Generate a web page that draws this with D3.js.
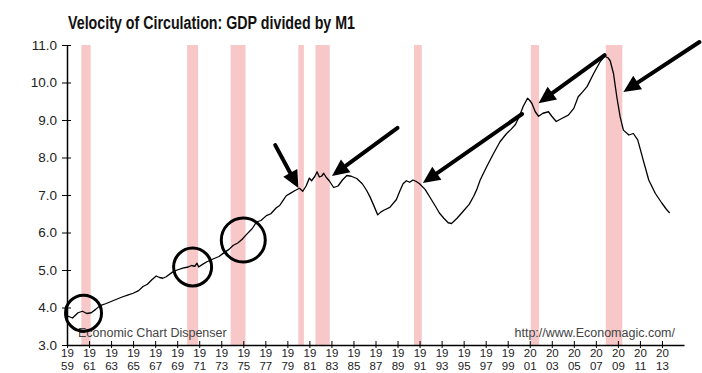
<!DOCTYPE html>
<html>
<head>
<meta charset="utf-8">
<script src="https://cdn.jsdelivr.net/npm/d3@7"></script>
<style>
  body { margin: 0; background: #fff; }
  svg { display: block; font-family: "Liberation Sans", Arial, sans-serif; }
</style>
</head>
<body>
<svg id="chart" width="702" height="373"></svg>
<script>
// Series
const years = [1959.0, 1959.5, 1960.0, 1960.4, 1960.8, 1961.2, 1961.6, 1962.0, 1962.5, 1963.0,
  1963.5, 1964.0, 1964.5, 1965.0, 1965.5, 1965.9, 1966.3, 1966.7, 1967.1, 1967.4,
  1967.7, 1968.0, 1968.6, 1969.0, 1969.5, 1970.0, 1970.3, 1970.6, 1970.8, 1970.95,
  1971.3, 1971.7, 1972.3, 1972.8, 1973.2, 1973.7, 1974.1, 1974.5, 1974.9, 1975.3,
  1975.8, 1976.2, 1976.6, 1977.1, 1977.5, 1978.0, 1978.3, 1978.6, 1978.9, 1979.3,
  1979.7, 1980.1, 1980.4, 1980.7, 1981.0, 1981.2, 1981.5, 1981.7, 1981.9, 1982.1,
  1982.3, 1982.5, 1982.8, 1983.2, 1983.6, 1984.0, 1984.4, 1984.8, 1985.3, 1985.8,
  1986.2, 1986.5, 1986.8, 1987.2, 1987.5, 1987.8, 1988.3, 1988.9, 1989.2, 1989.5,
  1989.8, 1990.1, 1990.4, 1990.7, 1991.0, 1991.5, 1991.9, 1992.4, 1992.8, 1993.2,
  1993.6, 1993.9, 1994.4, 1995.0, 1995.5, 1995.9, 1996.2, 1996.5, 1997.1, 1997.7,
  1998.3, 1998.9, 1999.3, 1999.7, 2000.1, 2000.4, 2000.8, 2001.0, 2001.2, 2001.5,
  2001.8, 2002.2, 2002.7, 2003.0, 2003.4, 2003.9, 2004.5, 2005.0, 2005.4, 2005.8,
  2006.2, 2006.8, 2007.4, 2007.8, 2008.1, 2008.3, 2008.6, 2008.9, 2009.2, 2009.5,
  2010.0, 2010.4, 2010.8, 2011.3, 2011.8, 2012.4, 2013.0, 2013.4, 2013.7];
const velocity = [3.78, 3.72, 3.86, 3.90, 3.84, 3.86, 3.95, 4.05, 4.10, 4.16,
  4.22, 4.28, 4.33, 4.38, 4.45, 4.56, 4.62, 4.74, 4.84, 4.80,
  4.78, 4.82, 4.95, 5.00, 5.05, 5.08, 5.12, 5.10, 5.18, 5.08,
  5.15, 5.22, 5.30, 5.36, 5.45, 5.55, 5.66, 5.72, 5.82, 5.95,
  6.10, 6.28, 6.32, 6.45, 6.50, 6.66, 6.72, 6.85, 6.98, 7.05,
  7.12, 7.18, 7.10, 7.24, 7.45, 7.38, 7.50, 7.62, 7.48, 7.50,
  7.58, 7.48, 7.38, 7.20, 7.24, 7.40, 7.52, 7.50, 7.44, 7.30,
  7.12, 6.95, 6.75, 6.47, 6.55, 6.60, 6.67, 6.88, 7.10, 7.30,
  7.38, 7.34, 7.40, 7.36, 7.30, 7.15, 6.96, 6.72, 6.52, 6.38,
  6.26, 6.24, 6.38, 6.58, 6.75, 6.96, 7.15, 7.40, 7.76, 8.10,
  8.42, 8.64, 8.75, 8.88, 9.13, 9.36, 9.58, 9.52, 9.44, 9.22,
  9.10, 9.18, 9.22, 9.10, 8.96, 9.04, 9.13, 9.31, 9.62, 9.75,
  9.89, 10.24, 10.56, 10.70, 10.66, 10.58, 10.24, 9.62, 9.09, 8.73,
  8.60, 8.64, 8.47, 7.93, 7.40, 7.04, 6.78, 6.62, 6.52];

// Recession shading (start, end)
const recessionStart = [1960.3, 1969.9, 1973.85, 1980.0, 1981.55, 1990.5, 2001.1, 2007.9];
const recessionEnd   = [1961.15, 1970.9, 1975.2, 1980.5, 1982.85, 1991.2, 2001.85, 2009.4];

// Axis ticks
const yTicks = [3, 4, 5, 6, 7, 8, 9, 10, 11];
const xTicks = d3.range(1959, 2014, 2);

// Hand-drawn annotations (in data units)
const circleYear = [1960.5, 1970.4, 1975.0];
const circleValue = [3.85, 5.08, 5.8];
const circleRadius = [18, 19, 22];
const arrowFrom = [[1977.9, 8.33], [1989.0, 8.79], [2000.3, 9.16], [2007.8, 10.73], [2016.4, 11.08]];
const arrowTo   = [[1980.0, 7.19], [1983.05, 7.51], [1991.3, 7.32], [2001.8, 9.45], [2009.5, 9.75]];

const svg = d3.select("#chart");

const xScale = d3.scaleLinear().domain([1959, 2015]).range([67, 684]);
const yScale = d3.scaleLinear().domain([3, 11]).range([345, 45]);

// Title
svg.append("text")
    .text("Velocity of Circulation: GDP divided by M1")
    .attr("x", 68)
    .attr("y", 29)
    .attr("font-size", 17.5)
    .attr("font-weight", "bold")
    .attr("fill", "#111")
    .attr("textLength", 287)
    .attr("lengthAdjust", "spacingAndGlyphs");

// Recession bars
svg.append("g")
    .selectAll("rect")
    .data(recessionStart)
    .join("rect")
    .attr("x", d => xScale(d))
    .attr("width", (d, i) => xScale(recessionEnd[i]) - xScale(d))
    .attr("y", yScale(11))
    .attr("height", yScale(3) - yScale(11))
    .attr("fill", "#f8c8c8");

// Footer texts
svg.append("text")
    .text("Economic Chart Dispenser")
    .attr("x", 78)
    .attr("y", 337)
    .attr("font-size", 12.5)
    .attr("fill", "#444");

svg.append("text")
    .text("http://www.Economagic.com/")
    .attr("x", 675)
    .attr("y", 337)
    .attr("text-anchor", "end")
    .attr("font-size", 12.5)
    .attr("fill", "#444");

// Left axis
const leftAxis = d3.axisLeft(yScale)
    .tickValues(yTicks)
    .tickFormat(d3.format(".1f"))
    .tickSizeInner(5)
    .tickSizeOuter(0)
    .tickPadding(5);
const gy = svg.append("g")
    .attr("transform", `translate(${xScale(1959)},0)`)
    .call(leftAxis);
gy.selectAll(".tick line").attr("x2", 4).attr("x1", -5).attr("stroke", "#000");
gy.selectAll(".tick text").attr("x", -10).attr("font-size", 13.5).attr("fill", "#222")
    .attr("font-family", "Liberation Sans, Arial, sans-serif");
gy.select(".domain").attr("stroke", "#000").attr("stroke-width", 1.5);

// Bottom axis: two-line year labels ("19" over "59")
const bottomAxis = d3.axisBottom(xScale)
    .tickValues(xTicks)
    .tickSizeInner(4)
    .tickSizeOuter(0)
    .tickFormat("");
const gx = svg.append("g")
    .attr("transform", `translate(0,${yScale(3)})`)
    .call(bottomAxis);
gx.selectAll(".tick line").attr("y1", -4).attr("y2", 3).attr("stroke", "#000");
gx.select(".domain").attr("stroke", "#000").attr("stroke-width", 1.5);
gx.selectAll(".tick")
    .selectAll("text.yr")
    .data(d => [String(d).slice(0, 2), String(d).slice(2)])
    .join("text")
    .attr("class", "yr")
    .attr("text-anchor", "middle")
    .attr("font-size", 11.5)
    .attr("fill", "#222")
    .attr("font-family", "Liberation Sans, Arial, sans-serif")
    .attr("x", 0)
    .attr("y", (d, i) => 12 + i * 13)
    .text(d => d);

// Velocity line
const line = d3.line()
    .x((d, i) => xScale(years[i]))
    .y(d => yScale(d));
svg.append("path")
    .datum(velocity)
    .attr("d", line)
    .attr("fill", "none")
    .attr("stroke", "#000")
    .attr("stroke-width", 1.3)
    .attr("stroke-linejoin", "round");

// Annotation circles
svg.append("g")
    .selectAll("circle")
    .data(circleYear)
    .join("circle")
    .attr("cx", d => xScale(d))
    .attr("cy", (d, i) => yScale(circleValue[i]))
    .attr("r", (d, i) => circleRadius[i])
    .attr("fill", "none")
    .attr("stroke", "#000")
    .attr("stroke-width", 3);

// Annotation arrows
const headLen = 17, headHalf = 8;
const arrows = svg.append("g");
arrowFrom.forEach((from, i) => {
    const x1 = xScale(from[0]), y1 = yScale(from[1]);
    const x2 = xScale(arrowTo[i][0]), y2 = yScale(arrowTo[i][1]);
    const len = Math.hypot(x2 - x1, y2 - y1);
    const ux = (x2 - x1) / len, uy = (y2 - y1) / len;
    const bx = x2 - ux * headLen, by = y2 - uy * headLen;
    arrows.append("line")
        .attr("x1", x1).attr("y1", y1)
        .attr("x2", bx).attr("y2", by)
        .attr("stroke", "#000")
        .attr("stroke-width", 4)
        .attr("stroke-linecap", "round");
    arrows.append("path")
        .attr("d", `M${x2},${y2}L${bx - uy * headHalf},${by + ux * headHalf}L${bx + uy * headHalf},${by - ux * headHalf}Z`)
        .attr("fill", "#000");
});
</script>
</body>
</html>
